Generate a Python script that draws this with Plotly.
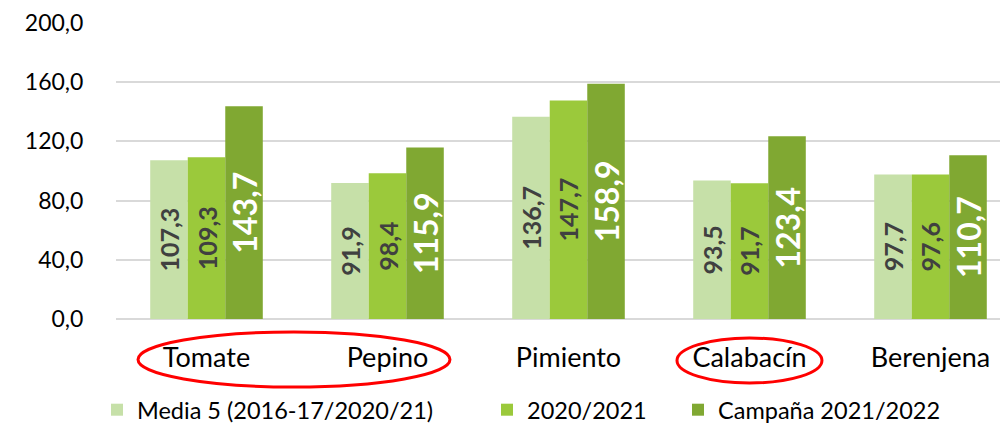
import plotly.graph_objects as go

categories = ["Tomate", "Pepino", "Pimiento", "Calabacín", "Berenjena"]
media5 = [107.3, 91.9, 136.7, 93.5, 97.7]
s2020 = [109.3, 98.4, 147.7, 91.7, 97.6]
s2021 = [143.7, 115.9, 158.9, 123.4, 110.7]
series_names = ["Media 5 (2016-17/2020/21)", "2020/2021", "Campaña 2021/2022"]
y_ticks = [0, 40, 80, 120, 160, 200]

colors = ["#C6E0A8", "#9BC93B", "#80A832"]
text_colors = ["#404040", "#404040", "#FFFFFF"]
text_sizes = [25, 25, 32]
FONT = "Lato"

fig = go.Figure()
legends = ["legend", "legend2", "legend3"]
for vals, name, col, tc, ts, lg in zip([media5, s2020, s2021], series_names, colors,
                                        text_colors, text_sizes, legends):
    fig.add_trace(go.Bar(
        x=categories, y=vals, name=name, marker_color=col, marker_line_width=0,
        texttemplate="%{y:.1f}", textposition="inside", insidetextanchor="middle",
        textangle=-90, constraintext="none",
        textfont=dict(family=FONT, size=ts, color=tc, weight="bold"),
        hoverinfo="skip", legend=lg, showlegend=True,
    ))

leg_common = dict(orientation="h", xref="container", yref="container",
                  yanchor="middle", y=0.04, xanchor="left", visible=True,
                  font=dict(family=FONT, size=23.5, color="#000000"),
                  bgcolor="rgba(0,0,0,0)", borderwidth=0)

fig.update_layout(
    width=1000, height=427,
    showlegend=True,
    margin=dict(l=116, r=0, t=23, b=108, autoexpand=False),
    paper_bgcolor="white", plot_bgcolor="white",
    separators=", ",
    barmode="group", bargap=0.378, bargroupgap=0,
    font=dict(family=FONT, size=23, color="#000000"),
    legend=dict(x=0.097, **leg_common),
    legend2=dict(x=0.487, **leg_common),
    legend3=dict(x=0.678, **leg_common),
    xaxis=dict(range=[-0.5, 4.384], showgrid=False, showline=False, zeroline=False,
               ticks="outside", ticklen=15, tickcolor="rgba(0,0,0,0)",
               tickfont=dict(family=FONT, size=27, color="#000000")),
    yaxis=dict(range=[0, 200], tickvals=y_ticks, tickformat=".1f",
               showgrid=True, gridcolor="#D9D9D9", gridwidth=1.5,
               zeroline=True, zerolinecolor="#D9D9D9", zerolinewidth=1.5,
               showline=False, ticks="outside", ticklen=27, tickcolor="rgba(0,0,0,0)",
               tickfont=dict(family=FONT, size=23, color="#000000")),
    shapes=[
        dict(type="circle", xref="paper", yref="paper", x0=0.0249, x1=0.3778,
             y0=-0.2297, y1=-0.0439, line=dict(color="#FF0000", width=3)),
        dict(type="circle", xref="paper", yref="paper", x0=0.6346, x1=0.7986,
             y0=-0.2162, y1=-0.0642, line=dict(color="#FF0000", width=3)),
    ],
)

fig.write_html("out.html", config={"displayModeBar": False},
               post_script="document.body.style.margin='0';")
